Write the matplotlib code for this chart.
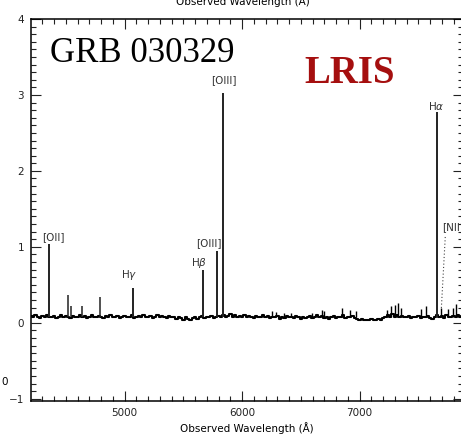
import numpy as np
import matplotlib
matplotlib.use('Agg')
import matplotlib.pyplot as plt
from matplotlib.ticker import MultipleLocator

# continuum, one value every 20 A starting at 4200 A
flux = [0.09, 0.07, 0.10, 0.08, 0.06, 0.09, 0.08, 0.10, 0.07, 0.08,
        0.09, 0.06, 0.08, 0.10, 0.07, 0.09, 0.08, 0.06, 0.09, 0.07,
        0.08, 0.10, 0.07, 0.09, 0.06, 0.08, 0.10, 0.08, 0.07, 0.09,
        0.08, 0.06, 0.09, 0.07, 0.10, 0.08, 0.07, 0.09, 0.06, 0.08,
        0.09, 0.07, 0.08, 0.10, 0.06, 0.08, 0.09, 0.07, 0.10, 0.08,
        0.07, 0.09, 0.06, 0.08, 0.10, 0.07, 0.09, 0.08, 0.06, 0.09,
        0.08, 0.07, 0.05, 0.08, 0.06, 0.04, 0.07, 0.05, 0.03, 0.06,
        0.08, 0.05, 0.07, 0.09, 0.06, 0.08, 0.07, 0.09, 0.06, 0.08,
        0.09, 0.08, 0.10, 0.07, 0.09, 0.11, 0.08, 0.10, 0.07, 0.09,
        0.08, 0.10, 0.07, 0.09, 0.08, 0.06, 0.09, 0.07, 0.08, 0.10,
        0.07, 0.09, 0.06, 0.08, 0.07, 0.09, 0.05, 0.08, 0.06, 0.09,
        0.07, 0.08, 0.06, 0.09, 0.07, 0.05, 0.08, 0.06, 0.07, 0.09,
        0.06, 0.08, 0.10, 0.07, 0.09, 0.06, 0.08, 0.05, 0.07, 0.09,
        0.06, 0.08, 0.07, 0.10, 0.06, 0.08, 0.07, 0.09, 0.06, 0.05,
        0.04, 0.05, 0.03, 0.04, 0.03, 0.05, 0.03, 0.04, 0.05, 0.04,
        0.06, 0.08, 0.10, 0.07, 0.11, 0.08, 0.10, 0.07, 0.09, 0.08,
        0.07, 0.09, 0.06, 0.08, 0.07, 0.09, 0.06, 0.08, 0.07, 0.09,
        0.06, 0.05, 0.08, 0.10, 0.07, 0.09, 0.06, 0.10, 0.08, 0.07,
        0.09, 0.07, 0.10, 0.08]
wl_start = 4200
wl_step = 20

# emission lines
line_wl = [4352, 5069, 5670, 5788, 5840, 7662]
line_peak = [1.04, 0.46, 0.70, 0.94, 3.03, 2.78]
weak_wl = [4517, 4542, 4636, 4790]
weak_peak = [0.37, 0.22, 0.22, 0.34]
sky_wl = [6254, 6288, 6356, 6415, 6593, 6678, 6695, 6847, 6915, 6966, 7229,
          7271, 7305, 7331, 7356, 7525, 7568, 7695, 7754, 7797, 7822]
sky_peak = [0.15, 0.14, 0.13, 0.13, 0.13, 0.17, 0.15, 0.19, 0.17, 0.16, 0.17,
            0.22, 0.24, 0.26, 0.20, 0.18, 0.22, 0.20, 0.18, 0.20, 0.25]

labels = ['[OII]', r'H$\gamma$', r'H$\beta$', '[OIII]', '[OIII]', r'H$\alpha$']
label_x = [4390, 5042, 5636, 5720, 5847, 7653]
label_y = [1.13, 0.63, 0.79, 1.05, 3.2, 2.86]

wl = wl_start + wl_step * np.arange(len(flux))

fig = plt.figure(figsize=(4.61, 4.40), dpi=100)
ax = fig.add_axes([31 / 461, 39 / 440, 432 / 461, 382 / 440])

ax.plot(wl, flux, color='black', lw=1.5, drawstyle='steps-mid')
base = 0.07
ax.vlines(line_wl, base, line_peak, color='#222222', lw=1.4)
ax.vlines(weak_wl, base, weak_peak, color='#222222', lw=1.1)
ax.vlines(sky_wl, base, sky_peak, color='black', lw=1.0)

for t, x, y in zip(labels, label_x, label_y):
    ax.text(x, y, t, ha='center', va='center', fontsize=7.5, color='#333333')
ax.text(7705, 1.26, '[NII]', ha='left', va='center', fontsize=7.5,
        color='#333333', clip_on=False)
ax.plot([7729, 7695], [1.13, 0.17], color='#444444', lw=0.8, ls=(0, (1, 2)))

ax.set_xlim(4203, 7880)
ax.set_ylim(-1.03, 4.0)
ax.xaxis.set_major_locator(MultipleLocator(1000))
ax.xaxis.set_minor_locator(MultipleLocator(100))
ax.yaxis.set_major_locator(MultipleLocator(1))
ax.yaxis.set_minor_locator(MultipleLocator(0.1))
ax.tick_params(which='both', direction='in', top=True, right=True,
               labelsize=7.5, width=0.8, colors='#222222')
ax.tick_params(which='major', length=7, pad=5)
ax.tick_params(which='minor', length=3.5)
for s in ax.spines.values():
    s.set_linewidth(1.1)
ax.set_xlabel('Observed Wavelength (Å)', fontsize=7.5, labelpad=3)

ax.text(50 / 461, 1 - 62 / 440, 'GRB 030329', transform=fig.transFigure,
        family='Liberation Serif', fontsize=25, va='baseline', ha='left')
ax.text(304 / 461, 1 - 83 / 440, 'LRIS', transform=fig.transFigure,
        family='Liberation Serif', fontsize=28, fontweight='bold',
        color='#a50f0f', va='baseline', ha='left')

fig.text(243 / 461, 1 - 2 / 440, 'Observed Wavelength (A)', fontsize=7.5,
         ha='center', va='center')
fig.text(5 / 461, 1 - 382 / 440, '0', fontsize=7.5, ha='center', va='center')

fig.savefig('out.png', dpi=100)
